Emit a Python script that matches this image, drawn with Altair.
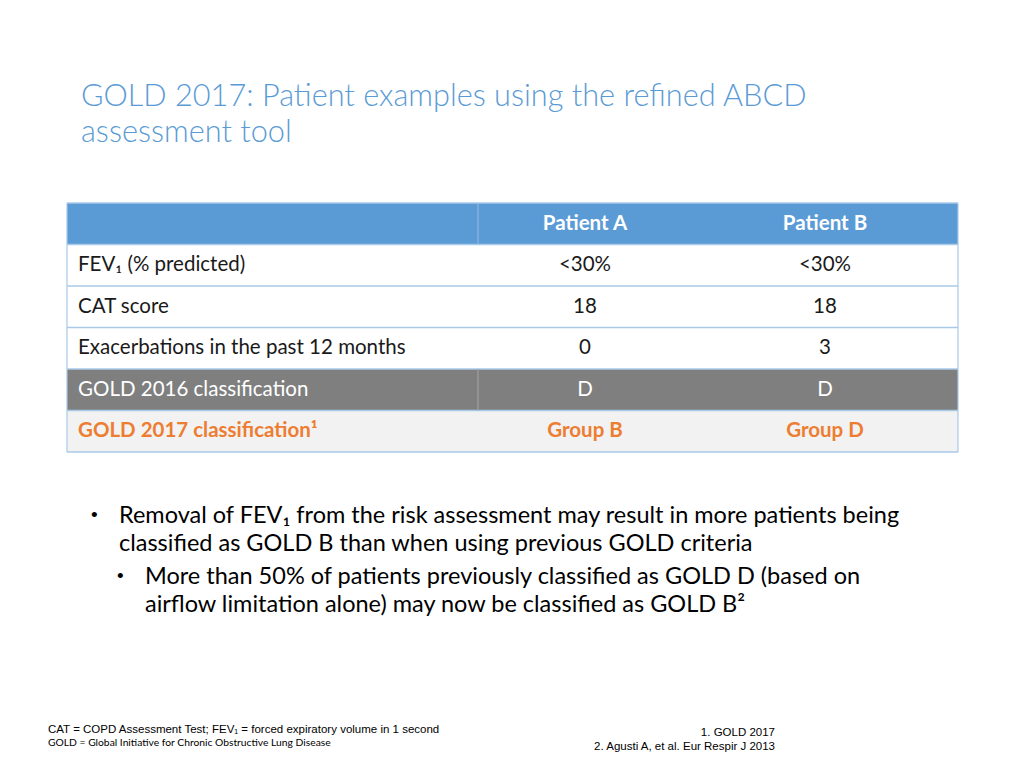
import altair as alt
import pandas as pd

# ---------------- content ----------------
title_lines = ["GOLD 2017: Patient examples using the refined ABCD", "assessment tool"]
col_headers = ["", "Patient A", "Patient B"]
row_labels = ["FEV\u2081 (% predicted)", "CAT score", "Exacerbations in the past 12 months",
              "GOLD 2016 classification", "GOLD 2017 classification\u00b9"]
patient_a = ["<30%", "18", "0", "D", "Group B"]
patient_b = ["<30%", "18", "3", "D", "Group D"]
bullet_lines = [
    ("\u2022", "Removal of FEV\u2081 from the risk assessment may result in more patients being", 0),
    ("", "classified as GOLD B than when using previous GOLD criteria", 0),
    ("\u2022", "More than 50% of patients previously classified as GOLD D (based on", 1),
    ("", "airflow limitation alone) may now be classified as GOLD B\u00b2", 1),
]
foot_left = ["CAT = COPD Assessment Test; FEV\u2081 = forced expiratory volume in 1 second",
             "GOLD = Global Initiative for Chronic Obstructive Lung Disease"]
foot_right = ["1. GOLD 2017", "2. Agusti A, et al. Eur Respir J 2013"]

# ---------------- layout ----------------
FONT = "Lato"
BLUE = "#5B9BD5"
LINE = "#A9C9E8"
COL_EDGES = [67, 478, 692, 958]
TOP = 203
ROW_H = 41.5
row_fill = ["#5B9BD5", "#FFFFFF", "#FFFFFF", "#FFFFFF", "#7F7F7F", "#F2F2F2"]
row_text = ["#FFFFFF", "#1A1A1A", "#1A1A1A", "#1A1A1A", "#FFFFFF", "#ED7D31"]
row_bold = [True, False, False, False, False, True]

W, H = 1000, 750
xs = alt.Scale(domain=[8, 8 + W], range=[0, W])
ys = alt.Scale(domain=[8, 8 + H], range=[0, H])
X = lambda f="x": alt.X(f"{f}:Q", scale=xs, axis=None)
Y = lambda f="y": alt.Y(f"{f}:Q", scale=ys, axis=None)

# row backgrounds
n_rows = len(row_labels) + 1
bg = pd.DataFrame({
    "x": [COL_EDGES[0]] * n_rows, "x2": [COL_EDGES[-1]] * n_rows,
    "y": [TOP + i * ROW_H for i in range(n_rows)],
    "y2": [TOP + (i + 1) * ROW_H for i in range(n_rows)],
    "fill": row_fill,
})
rects = alt.Chart(bg).mark_rect().encode(
    x=X(), x2="x2:Q", y=Y(), y2="y2:Q", fill=alt.Fill("fill:N", scale=None))

# horizontal lines
hl = pd.DataFrame({"x": [COL_EDGES[0]] * (n_rows + 1), "x2": [COL_EDGES[-1]] * (n_rows + 1),
                   "y": [TOP + i * ROW_H for i in range(n_rows + 1)]})
hrules = alt.Chart(hl).mark_rule(color=LINE, strokeWidth=1.5).encode(x=X(), x2="x2:Q", y=Y())

# vertical lines (outer + inner separators in header and grey row)
vl = pd.DataFrame({
    "x": [COL_EDGES[0], COL_EDGES[-1], COL_EDGES[1], COL_EDGES[1]],
    "y": [TOP, TOP, TOP, TOP + 4 * ROW_H],
    "y2": [TOP + n_rows * ROW_H, TOP + n_rows * ROW_H, TOP + ROW_H, TOP + 5 * ROW_H],
    "c": [LINE, LINE, "#8DB8E2", "#A0A0A0"],
})
vrules = alt.Chart(vl).mark_rule(strokeWidth=1.2).encode(
    x=X(), y=Y(), y2="y2:Q", color=alt.Color("c:N", scale=None))

# cell texts
cells = []
all_rows = [col_headers] + [[row_labels[i], patient_a[i], patient_b[i]] for i in range(len(row_labels))]
for r, row in enumerate(all_rows):
    for c, txt in enumerate(row):
        if not txt:
            continue
        cx = 78 if c == 0 else (COL_EDGES[c] + COL_EDGES[c + 1]) / 2
        cells.append({"x": cx, "y": TOP + (r + 0.5) * ROW_H, "t": txt,
                      "col": row_text[r], "bold": row_bold[r], "left": c == 0})
cells = pd.DataFrame(cells)


def cell_layer(bold, left):
    d = cells[(cells.bold == bold) & (cells.left == left)]
    return alt.Chart(d).mark_text(
        font=FONT, fontSize=20.5, fontWeight="bold" if bold else "normal",
        align="left" if left else "center", baseline="middle"
    ).encode(x=X(), y=Y(), text="t:N", color=alt.Color("col:N", scale=None))


cell_layers = [cell_layer(b, l) for b in (True, False) for l in (True, False)
               if len(cells[(cells.bold == b) & (cells.left == l)])]

# title
tdf = pd.DataFrame({"x": [81, 81], "y": [106, 142], "t": title_lines})
title = alt.Chart(tdf).mark_text(font=FONT, fontSize=30.7, fontWeight=300, color=BLUE,
                                 align="left", baseline="alphabetic").encode(x=X(), y=Y(), text="t:N")

# bullets
brows = []
for i, (b, t, lvl) in enumerate(bullet_lines):
    y = [523, 551, 584, 612][i]
    brows.append({"x": 119 + 26 * lvl, "y": y, "t": t, "b": False})
    if b:
        brows.append({"x": 91 + 26 * lvl, "y": y - 2, "t": b, "b": True})
bdf = pd.DataFrame(brows)
bullets = alt.Chart(bdf[~bdf.b]).mark_text(font=FONT, fontSize=23.5, color="#000000",
                                           align="left", baseline="alphabetic").encode(x=X(), y=Y(), text="t:N")
bullet_marks = alt.Chart(bdf[bdf.b]).mark_text(font="Liberation Sans", fontSize=19, color="#000000",
                                               align="left", baseline="alphabetic").encode(x=X(), y=Y(), text="t:N")

# footnotes
f1 = alt.Chart(pd.DataFrame({"x": [48], "y": [733], "t": [foot_left[0]]})).mark_text(
    font="Liberation Sans", fontSize=11.5, color="#000000", align="left", baseline="alphabetic"
).encode(x=X(), y=Y(), text="t:N")
f2 = alt.Chart(pd.DataFrame({"x": [48], "y": [746], "t": [foot_left[1]]})).mark_text(
    font=FONT, fontSize=10.3, color="#000000", align="left", baseline="alphabetic"
).encode(x=X(), y=Y(), text="t:N")
f3 = alt.Chart(pd.DataFrame({"x": [775, 775], "y": [736, 750], "t": foot_right})).mark_text(
    font="Liberation Sans", fontSize=11.5, color="#000000", align="right", baseline="alphabetic"
).encode(x=X(), y=Y(), text="t:N")

chart = alt.layer(rects, hrules, vrules, *cell_layers, title, bullets, bullet_marks, f1, f2, f3).properties(
    width=W, height=H, autosize=alt.AutoSizeParams(type="none"), padding=0
).configure_view(strokeWidth=0)

chart.save("out.html", embed_options={"renderer": "svg", "actions": False})
